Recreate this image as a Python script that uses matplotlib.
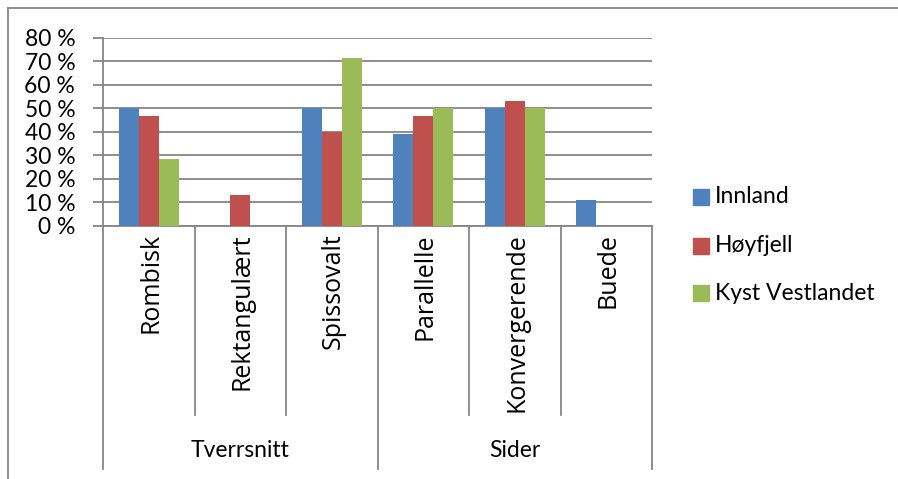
import matplotlib
matplotlib.use("Agg")
import matplotlib.pyplot as plt
import numpy as np
from matplotlib.patches import Rectangle
from matplotlib.lines import Line2D
import matplotlib.transforms as mtransforms

plt.rcParams['font.family'] = ['Lato', 'DejaVu Sans']

categories = ["Rombisk", "Rektangulært", "Spissovalt", "Parallelle", "Konvergerende", "Buede"]
groups = ["Tverrsnitt", "Sider"]
group_sizes = [3, 3]
series_names = ["Innland", "Høyfjell", "Kyst Vestlandet"]
innland = [50.0, 0.0, 50.0, 38.9, 50.0, 11.1]
hoyfjell = [46.7, 13.3, 40.0, 46.7, 53.3, 0.0]
kyst = [28.6, 0.0, 71.4, 50.0, 50.0, 0.0]
yticks = [0, 10, 20, 30, 40, 50, 60, 70, 80]
ytick_labels = ["0 %", "10 %", "20 %", "30 %", "40 %", "50 %", "60 %", "70 %", "80 %"]
colors = ["#4F81BD", "#C0504D", "#9BBB59"]

W, H = 898, 479
fig = plt.figure(figsize=(W / 100, H / 100), dpi=100)

ax_l, ax_r, ax_t, ax_b = 103, 652, 37.7, 226
ax = fig.add_axes([ax_l / W, 1 - ax_b / H, (ax_r - ax_l) / W, (ax_b - ax_t) / H])

grid_c = "#868686"
n = len(categories)
x = np.arange(n)
bw = 0.219
for i, (vals, c) in enumerate(zip([innland, hoyfjell, kyst], colors)):
    ax.bar(x + (i - 1) * bw, vals, width=bw, color=c, zorder=3, linewidth=0)

ax.set_xlim(-0.5, n - 0.5)
ax.set_ylim(0, 80)
ax.set_yticks(yticks)
ax.set_yticklabels(ytick_labels, fontsize=16.5, color="black")
ax.set_xticks([])
for s in ["top", "right", "bottom"]:
    ax.spines[s].set_visible(False)
ax.spines["left"].set_color(grid_c)
ax.spines["left"].set_linewidth(1.3)
ax.tick_params(axis="y", length=7, width=1.3, color=grid_c, pad=13)
ax.yaxis.grid(True, color=grid_c, linewidth=1.3, zorder=0)
ax.set_axisbelow(True)

# category axis (two levels)
trans = mtransforms.blended_transform_factory(ax.transData, ax.transAxes)
ax.add_line(Line2D([-0.5, n - 0.5], [0, 0], transform=trans, color=grid_c, lw=1.3, clip_on=False))
span = ax_b - ax_t
inner_end = -(415 - ax_b) / span
outer_end = -(469 - ax_b) / span
group_bounds = np.cumsum([0] + group_sizes) - 0.5
for b in np.arange(n + 1) - 0.5:
    yend = outer_end if np.any(np.isclose(b, group_bounds)) else inner_end
    ax.add_line(Line2D([b, b], [0, yend], transform=trans, color=grid_c, lw=1.3, clip_on=False))

lab_top = -(233 - ax_b) / span
for xi, cat in zip(x, categories):
    ax.text(xi + 0.02, lab_top, cat, transform=trans, rotation=90, ha="center", va="top",
            fontsize=18, color="black", family=["Open Sans", "DejaVu Sans"])

grp_y = -(451 - ax_b) / span
for gi, g in enumerate(groups):
    cx = (group_bounds[gi] + group_bounds[gi + 1]) / 2
    ax.text(cx, grp_y, g, transform=trans, ha="center", va="center", fontsize=16.5, color="black")

# legend
leg_y = [196.7, 246, 293.3]
for name, c, yy in zip(series_names, colors, leg_y):
    fig.patches.append(Rectangle((693 / W, 1 - (yy + 8) / H), 16 / W, 16 / H,
                                 transform=fig.transFigure, color=c))
    fig.text(715 / W, 1 - yy / H, name, ha="left", va="center", fontsize=16.5, color="black")

# chart border (top + left visible)
fig.add_artist(Line2D([8 / W, 1], [1 - 8 / H, 1 - 8 / H], transform=fig.transFigure, color=grid_c, lw=1.3))
fig.add_artist(Line2D([8 / W, 8 / W], [0, 1 - 8 / H], transform=fig.transFigure, color=grid_c, lw=1.3))

fig.savefig("out.png", dpi=100, facecolor="white")
